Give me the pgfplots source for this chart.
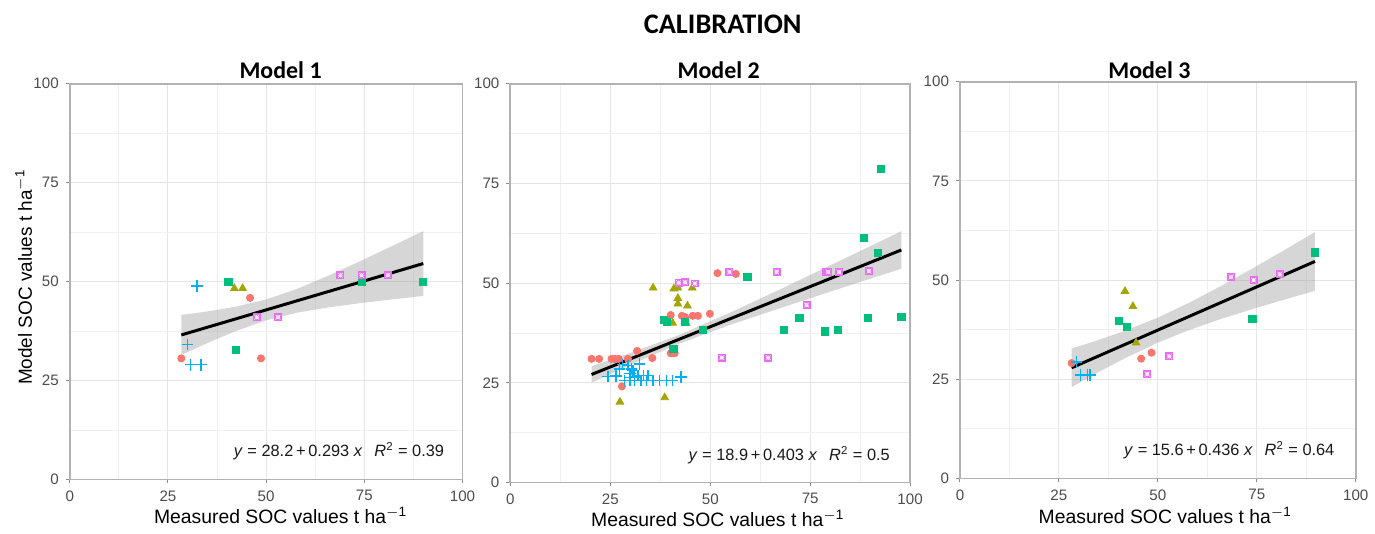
\documentclass[border=0pt]{standalone}
\usepackage{pgfplots}
\pgfplotsset{compat=1.18}
\usepgfplotslibrary{fillbetween}
\usepackage{fontspec}
\setmainfont{Liberation Sans}
\newfontfamily\titlefont{Carlito}

\definecolor{cred}{HTML}{F8766D}
\definecolor{colive}{HTML}{A3A500}
\definecolor{cgreen}{HTML}{00BF7D}
\definecolor{cblue}{HTML}{00B0F6}
\definecolor{cmag}{HTML}{E76BF3}

% magenta boxed mark: filled square with white circle and cross
\pgfdeclareplotmark{sqx}{%
  \pgfpathrectangle{\pgfpoint{-\pgfplotmarksize}{-\pgfplotmarksize}}{\pgfpoint{2\pgfplotmarksize}{2\pgfplotmarksize}}%
  \pgfusepathqfill
  \pgfsetstrokecolor{white}\pgfsetlinewidth{0.25pt}%
  \pgfpathcircle{\pgfpointorigin}{0.45\pgfplotmarksize}%
  \pgfpathmoveto{\pgfpoint{-0.6\pgfplotmarksize}{-0.6\pgfplotmarksize}}%
  \pgfpathlineto{\pgfpoint{0.6\pgfplotmarksize}{0.6\pgfplotmarksize}}%
  \pgfpathmoveto{\pgfpoint{-0.6\pgfplotmarksize}{0.6\pgfplotmarksize}}%
  \pgfpathlineto{\pgfpoint{0.6\pgfplotmarksize}{-0.6\pgfplotmarksize}}%
  \pgfusepathqstroke
}

\tikzset{eq/.style={anchor=base east, inner sep=0pt, font=\fontsize{8.2}{9}\selectfont, text=black!90}}

\pgfplotsset{
  socpanel/.style={
    scale only axis,
    xmin=0, xmax=100, ymin=0, ymax=100,
    xtick={0,25,50,75,100}, ytick={0,25,50,75,100},
    minor tick num=1,
    grid=both,
    major grid style={draw=black!10, line width=0.5pt},
    minor grid style={draw=black!6, line width=0.4pt},
    axis line style={draw=black!30, line width=0.9pt},
    tick style={draw=black!45, line width=0.5pt},
    tick align=outside, tick pos=left,
    major tick length=2pt, minor tick length=0pt,
    ticklabel style={font=\fontsize{7.6}{8.5}\selectfont, text=black!70},
    /pgf/number format/assume math mode=true,
  },
  pred/.style={only marks, mark=*, mark size=1.8pt, color=cred},
  polive/.style={only marks, mark=triangle*, mark size=2.2pt, color=colive},
  pgreen/.style={only marks, mark=square*, mark size=1.8pt, color=cgreen},
  pblue/.style={only marks, mark=+, mark size=2.9pt, color=cblue, mark options={line width=0.75pt}},
  pmag/.style={only marks, mark=sqx, mark size=2pt, color=cmag},
  bound/.style={draw=none, no markers, sharp plot, forget plot},
  band/.style={fill=black!40, fill opacity=0.4, draw=none},
  fit/.style={sharp plot, no markers, black, line width=1.5pt},
}

\begin{document}
\begin{tikzpicture}

% ---------------- Model 1 ----------------
\begin{axis}[socpanel, at={(35pt,24.5pt)}, anchor=south west, width=197pt, height=198.5pt]
\addplot[pred] coordinates {(28.4,30.6) (48.7,30.6) (45.9,45.9)};
\addplot[polive] coordinates {(41.9,48.3) (44.0,48.3)};
\addplot[pgreen] coordinates {(40.4,50.0) (42.4,32.8) (74.3,50.0) (90.0,50.0)};
\addplot[pblue] coordinates {(32.4,48.9) (30.0,34.1) (30.7,29.0) (33.4,29.0)};
\addplot[pmag] coordinates {(47.6,41.0) (53.0,41.0) (68.9,51.6) (74.3,51.6) (81.0,51.6)};
\addplot[bound, name path=u1] coordinates {
(28.4,41.57) (35,42.46) (42,43.61) (50,45.48) (58,48.21) (66,51.57) (74,55.20) (82,58.96) (90,62.77)};
\addplot[bound, name path=l1] coordinates {
(28.4,31.47) (35,34.46) (42,37.41) (50,40.22) (58,42.17) (66,43.51) (74,44.56) (82,45.50) (90,46.37)};
\addplot[band] fill between[of=u1 and l1];
\addplot[fit] coordinates {(28.4,36.52) (90,54.57)};
\node[eq] at (axis cs:95.4,5.8) {\textit{y} = 28.2\,+\,0.293 \textit{x}\hspace{6pt}\textit{R}\textsuperscript{2} = 0.39};
\end{axis}

% ---------------- Model 2 ----------------
\begin{axis}[socpanel, at={(256pt,23pt)}, anchor=south west, width=200.5pt, height=200pt]
\addplot[pred] coordinates {
(20.3,31.0) (22.2,31.0) (25.3,31.0) (26.1,31.0) (27.1,31.0) (29.4,31.0) (27.9,24.1)
(31.7,33.0) (35.5,31.2) (40.1,32.4) (41.1,32.4) (40.1,42.0) (42.9,41.8) (43.7,41.5)
(45.6,41.8) (46.9,41.8) (49.9,42.3) (51.8,52.5) (56.4,52.3)};
\addplot[polive] coordinates {
(27.4,20.2) (38.6,21.3) (35.7,48.8) (40.9,48.6) (41.9,48.8) (45.5,48.8) (41.9,46.2)
(41.9,44.8) (44.3,44.3) (40.6,40.0) (44.0,40.0)};
\addplot[pgreen] coordinates {
(38.3,40.8) (39.2,40.2) (43.7,40.2) (40.8,33.5) (48.2,38.3) (59.3,51.6) (68.5,38.3)
(72.3,41.3) (78.6,37.9) (82.0,38.3) (89.5,41.3) (97.8,41.5) (88.4,61.3) (91.9,57.6) (92.6,78.7)};
\addplot[pblue] coordinates {
(24.4,26.6) (26.4,26.7) (27.3,28.5) (28.0,29.6) (29.4,29.3) (30.3,28.5) (30.7,28.1)
(29.9,27.3) (31.9,26.8) (33.3,26.8) (34.4,26.8) (32.3,29.7) (28.6,25.6) (29.9,25.6)
(31.1,25.6) (32.7,25.6) (34.0,25.6) (35.7,25.6) (37.3,25.6) (39.0,25.6) (40.6,25.6)
(42.7,26.4) (30.0,26.3) (31.0,26.5)};
\addplot[pmag] coordinates {
(42.1,50.1) (43.7,50.2) (46.1,49.9) (54.8,52.8) (66.6,52.8) (79.0,52.8) (79.5,52.8)
(82.2,52.8) (89.7,53.0) (74.1,44.5) (52.9,31.3) (64.5,31.3)};
\addplot[bound, name path=u2] coordinates {
(20.3,29.16) (30,32.46) (42,36.93) (55,42.60) (68,48.70) (80,54.44) (90,59.25) (97.8,63.01)};
\addplot[bound, name path=l2] coordinates {
(20.3,25.00) (30,29.52) (42,34.73) (55,39.54) (68,43.90) (80,47.84) (90,51.09) (97.8,53.61)};
\addplot[band] fill between[of=u2 and l2];
\addplot[fit] coordinates {(20.3,27.08) (97.8,58.31)};
\node[eq] at (axis cs:95.0,5.6) {\textit{y} = 18.9\,+\,0.403 \textit{x}\hspace{6pt}\textit{R}\textsuperscript{2} = 0.5};
\end{axis}

% ---------------- Model 3 ----------------
\begin{axis}[socpanel, at={(481.5pt,25pt)}, anchor=south west, width=198.5pt, height=199pt]
\addplot[pred] coordinates {(28.2,29.1) (45.8,30.2) (48.4,31.7)};
\addplot[polive] coordinates {(41.7,47.2) (43.7,43.4) (44.5,34.2)};
\addplot[pgreen] coordinates {(40.1,39.8) (42.1,38.3) (73.9,40.2) (89.7,57.0)};
\addplot[pblue] coordinates {(29.4,29.3) (30.4,26.1) (32.2,26.1) (32.9,26.1)};
\addplot[pmag] coordinates {(47.3,26.3) (52.9,30.8) (68.5,50.8) (74.2,50.0) (80.8,51.5)};
\addplot[bound, name path=u3] coordinates {
(28.2,32.75) (35,34.91) (42,37.35) (50,40.56) (58,44.33) (66,48.54) (74,52.99) (82,57.60) (89.7,62.11)};
\addplot[bound, name path=l3] coordinates {
(28.2,23.05) (35,26.81) (42,30.47) (50,34.24) (58,37.45) (66,40.22) (74,42.73) (82,45.10) (89.7,47.31)};
\addplot[band] fill between[of=u3 and l3];
\addplot[fit] coordinates {(28.2,27.90) (89.7,54.71)};
\node[eq] at (axis cs:94.7,5.8) {\textit{y} = 15.6\,+\,0.436 \textit{x}\hspace{6pt}\textit{R}\textsuperscript{2} = 0.64};
\end{axis}

% titles and axis labels
\node[anchor=base, font=\titlefont\bfseries\fontsize{14.2}{16}\selectfont] at (362.5pt,248pt) {CALIBRATION};
\node[anchor=base, font=\titlefont\bfseries\fontsize{12}{14}\selectfont] at (140.75pt,225.5pt) {Model 1};
\node[anchor=base, font=\titlefont\bfseries\fontsize{12}{14}\selectfont] at (360.5pt,225.5pt) {Model 2};
\node[anchor=base, font=\titlefont\bfseries\fontsize{12}{14}\selectfont] at (576.5pt,225.5pt) {Model 3};
\node[anchor=base, rotate=90, font=\fontsize{9.5}{11}\selectfont] at (16pt,126pt) {Model SOC values t ha\textsuperscript{$-$1}};
\node[anchor=base, font=\fontsize{9.7}{11}\selectfont] at (140.75pt,2.5pt) {Measured SOC values t ha\textsuperscript{$-$1}};
\node[anchor=base, font=\fontsize{9.7}{11}\selectfont] at (360pt,0.7pt) {Measured SOC values t ha\textsuperscript{$-$1}};
\node[anchor=base, font=\fontsize{9.7}{11}\selectfont] at (584.5pt,2.5pt) {Measured SOC values t ha\textsuperscript{$-$1}};
\path (0,0) rectangle (687.5pt,265pt);
\end{tikzpicture}
\end{document}
